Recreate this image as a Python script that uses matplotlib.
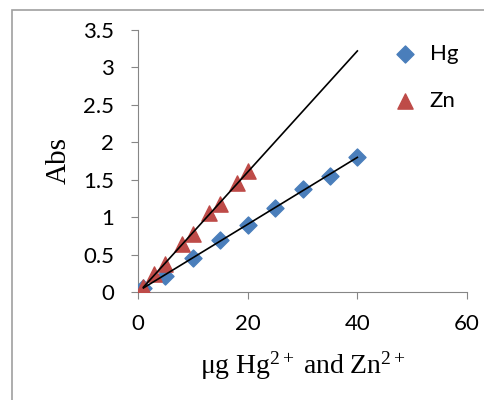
import numpy as np
import matplotlib.pyplot as plt
from matplotlib.patches import Rectangle

plt.rcParams['mathtext.fontset'] = 'custom'
plt.rcParams['mathtext.rm'] = 'Liberation Serif'
plt.rcParams['mathtext.it'] = 'Liberation Serif:italic'

# Hg series
hg_x = [1, 5, 10, 15, 20, 25, 30, 35, 40]
hg_y = [0.06, 0.22, 0.46, 0.69, 0.90, 1.12, 1.37, 1.55, 1.81]
# Zn series
zn_x = [1, 3, 5, 8, 10, 13, 15, 18, 20]
zn_y = [0.07, 0.24, 0.37, 0.64, 0.78, 1.05, 1.17, 1.45, 1.61]

fig = plt.figure(figsize=(4.84, 4.0), dpi=100)
fig.patches.append(Rectangle((0.025, -0.01), 1.0, 0.985, transform=fig.transFigure,
                             fill=False, edgecolor='#a0a0a0', lw=1.2))
ax = fig.add_axes([0.285, 0.27, 0.68, 0.655])

ax.scatter(hg_x, hg_y, marker='D', s=75, color='#4a7ebb', label='Hg', zorder=3)
ax.scatter(zn_x, zn_y, marker='^', s=120, color='#be4b48', label='Zn', zorder=3)

# linear trend lines
p_hg = np.polyfit(hg_x, hg_y, 1)
p_zn = np.polyfit(zn_x, zn_y, 1)
xl = np.array([1, 40])
ax.plot(xl, np.polyval(p_hg, xl), color='black', lw=1.2, zorder=4)
ax.plot(xl, np.polyval(p_zn, xl), color='black', lw=1.2, zorder=4)

ax.set_xlim(0, 60)
ax.set_ylim(0, 3.5)
ax.set_xticks([0, 20, 40, 60])
ax.set_yticks(np.arange(0, 3.51, 0.5))
ax.set_yticklabels(['0', '0.5', '1', '1.5', '2', '2.5', '3', '3.5'])
for s in ['top', 'right']:
    ax.spines[s].set_visible(False)
for s in ['left', 'bottom']:
    ax.spines[s].set_color('#868686')
ax.tick_params(axis='both', colors='#868686', labelcolor='black', labelsize=16,
               length=5, direction='out')
for lab in ax.get_xticklabels() + ax.get_yticklabels():
    lab.set_family(['Lato', 'DejaVu Sans'])
ax.tick_params(axis='x', pad=11)
ax.tick_params(axis='y', pad=12)

ax.set_xlabel(r'$\mathrm{\mu g\ Hg^{2+}\ and\ Zn^{2+}}$', fontsize=20, labelpad=11)
ax.set_ylabel('Abs', family='Liberation Serif', fontsize=21, labelpad=8)

leg = ax.legend(loc='upper right', bbox_to_anchor=(1.0, 0.98), frameon=False,
                prop={'family': 'Lato', 'size': 16}, handletextpad=0.1,
                labelspacing=1.2, borderaxespad=0)

plt.savefig('out.png', dpi=100)
